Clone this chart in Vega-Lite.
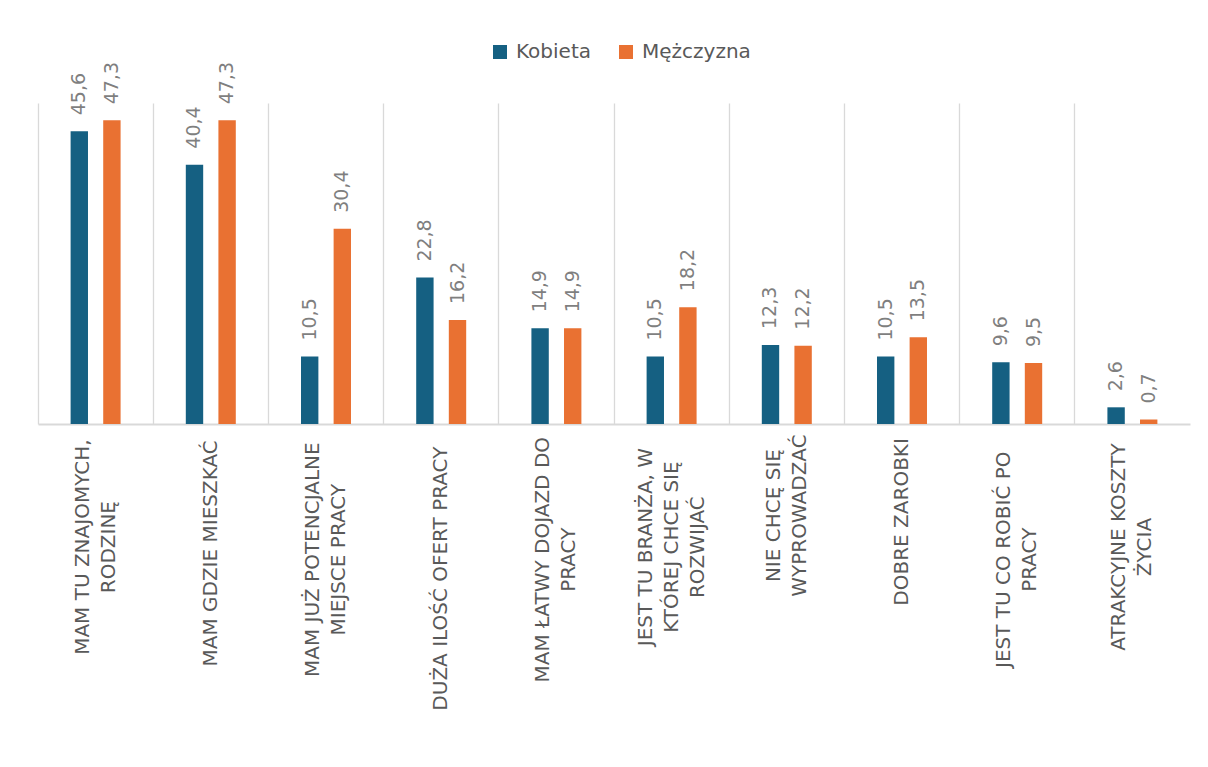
{
  "$schema": "https://vega.github.io/schema/vega-lite/v6.json",
  "width": 1152,
  "height": 321,
  "autosize": {"type": "none"},
  "padding": {"left": 38, "top": 103, "right": 18, "bottom": 343},
  "background": "white",
  "config": {
    "view": {"stroke": null},
    "font": "DejaVu Sans",
    "locale": {"number": {"decimal": ",", "thousands": " ", "grouping": [3], "currency": ["", " zł"]}}
  },
  "data": {
    "values": [
      {"cat": "MAM TU ZNAJOMYCH,|RODZINĘ", "plec": "Kobieta", "v": 45.6},
      {"cat": "MAM TU ZNAJOMYCH,|RODZINĘ", "plec": "Mężczyzna", "v": 47.3},
      {"cat": "MAM GDZIE MIESZKAĆ", "plec": "Kobieta", "v": 40.4},
      {"cat": "MAM GDZIE MIESZKAĆ", "plec": "Mężczyzna", "v": 47.3},
      {"cat": "MAM JUŻ POTENCJALNE|MIEJSCE PRACY", "plec": "Kobieta", "v": 10.5},
      {"cat": "MAM JUŻ POTENCJALNE|MIEJSCE PRACY", "plec": "Mężczyzna", "v": 30.4},
      {"cat": "DUŻA ILOŚĆ OFERT PRACY", "plec": "Kobieta", "v": 22.8},
      {"cat": "DUŻA ILOŚĆ OFERT PRACY", "plec": "Mężczyzna", "v": 16.2},
      {"cat": "MAM ŁATWY DOJAZD DO|PRACY", "plec": "Kobieta", "v": 14.9},
      {"cat": "MAM ŁATWY DOJAZD DO|PRACY", "plec": "Mężczyzna", "v": 14.9},
      {"cat": "JEST TU BRANŻA, W|KTÓREJ CHCE SIĘ|ROZWIJAĆ", "plec": "Kobieta", "v": 10.5},
      {"cat": "JEST TU BRANŻA, W|KTÓREJ CHCE SIĘ|ROZWIJAĆ", "plec": "Mężczyzna", "v": 18.2},
      {"cat": "NIE CHCĘ SIĘ|WYPROWADZAĆ", "plec": "Kobieta", "v": 12.3},
      {"cat": "NIE CHCĘ SIĘ|WYPROWADZAĆ", "plec": "Mężczyzna", "v": 12.2},
      {"cat": "DOBRE ZAROBKI", "plec": "Kobieta", "v": 10.5},
      {"cat": "DOBRE ZAROBKI", "plec": "Mężczyzna", "v": 13.5},
      {"cat": "JEST TU CO ROBIĆ PO|PRACY", "plec": "Kobieta", "v": 9.6},
      {"cat": "JEST TU CO ROBIĆ PO|PRACY", "plec": "Mężczyzna", "v": 9.5},
      {"cat": "ATRAKCYJNE KOSZTY|ŻYCIA", "plec": "Kobieta", "v": 2.6},
      {"cat": "ATRAKCYJNE KOSZTY|ŻYCIA", "plec": "Mężczyzna", "v": 0.7}
    ]
  },
  "encoding": {
    "x": {
      "field": "cat",
      "type": "nominal",
      "sort": null,
      "scale": {"paddingInner": 0, "paddingOuter": 0},
      "axis": {
        "title": null,
        "bandPosition": 0,
        "labels": false,
        "ticks": false,
        "tickSize": 0,
        "domainColor": "#d9d9d9",
        "domainWidth": 2,
        "grid": true,
        "gridColor": "#d9d9d9",
        "gridWidth": 1.3
      }
    },
    "y": {
      "field": "v",
      "type": "quantitative",
      "scale": {"domain": [0, 50]},
      "axis": null
    }
  },
  "layer": [
    {
      "mark": {"type": "bar"},
      "encoding": {
        "xOffset": {
          "field": "plec",
          "type": "nominal",
          "scale": {"paddingInner": 0.467, "paddingOuter": 1.15}
        },
        "color": {
          "field": "plec",
          "type": "nominal",
          "scale": {"domain": ["Kobieta", "Mężczyzna"], "range": ["#156082", "#E97132"]},
          "legend": {
            "title": null,
            "orient": "none",
            "legendX": 452,
            "legendY": -61,
            "direction": "horizontal",
            "symbolType": "square",
            "symbolSize": 196,
            "symbolStrokeWidth": 0,
            "labelFont": "DejaVu Sans",
            "labelFontSize": 20,
            "labelColor": "#595959",
            "labelOffset": 6,
            "columnPadding": 24,
            "padding": 0
          }
        }
      }
    },
    {
      "mark": {"type": "text", "angle": 270, "align": "left", "baseline": "middle", "dx": 16, "fontSize": 19, "font": "DejaVu Sans", "color": "#7f7f7f"},
      "encoding": {
        "xOffset": {"field": "plec", "type": "nominal"},
        "text": {"field": "v", "type": "quantitative", "format": ".1f"}
      }
    },
    {
      "transform": [{"filter": "datum.plec == 'Kobieta'"}],
      "mark": {
        "type": "text",
        "angle": 270,
        "align": "center",
        "baseline": "middle",
        "lineBreak": "|",
        "lineHeight": 26,
        "fontSize": 20,
        "font": "DejaVu Sans",
        "color": "#595959",
        "dx": {"expr": "-(16 + 6.3*max(length(split(datum.cat+'||','|')[0]), length(split(datum.cat+'||','|')[1]), length(split(datum.cat+'||','|')[2])))"},
        "dy": {"expr": "-13*(length(split(datum.cat,'|'))-1)"}
      },
      "encoding": {
        "y": {"datum": 0},
        "text": {"field": "cat", "type": "nominal"}
      }
    }
  ]
}
